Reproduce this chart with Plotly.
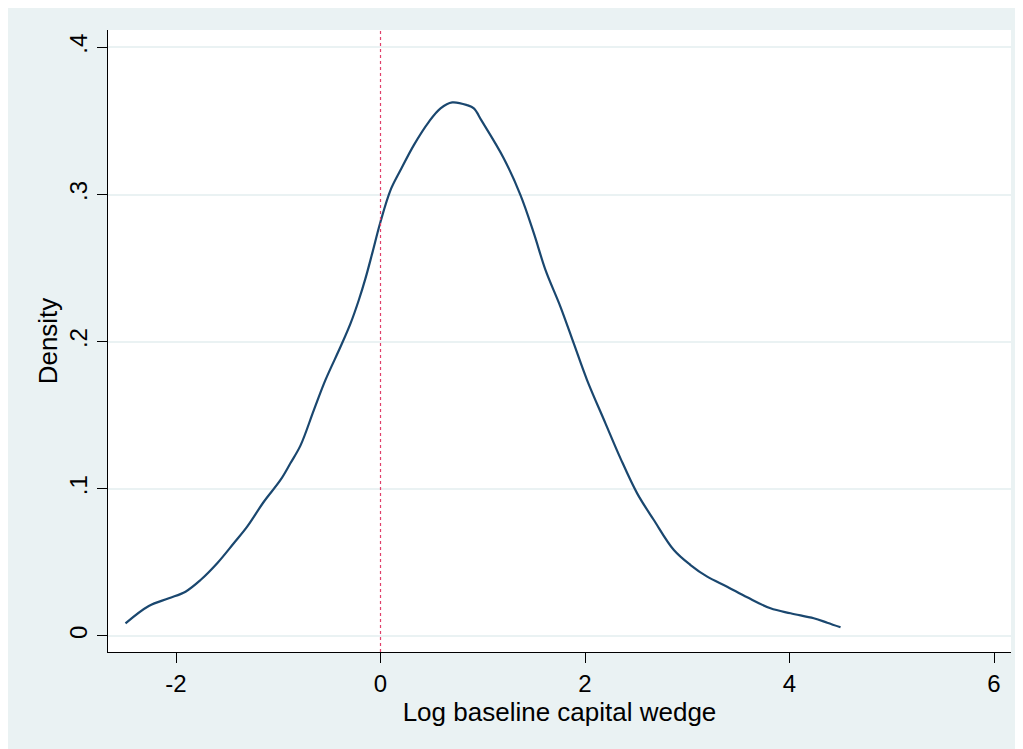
import plotly.graph_objects as go

x_vals = [-2.494, -2.266, -2.07, -1.907, -1.76, -1.597, -1.435, -1.304, -1.141, -0.978,
          -0.88, -0.782, -0.652, -0.538, -0.391, -0.293, -0.212, -0.147, -0.081, 0.0,
          0.098, 0.196, 0.326, 0.473, 0.587, 0.701, 0.848, 0.913, 0.99, 1.206,
          1.369, 1.5, 1.614, 1.76, 1.89, 2.02, 2.2, 2.347, 2.51, 2.673,
          2.869, 3.032, 3.195, 3.39, 3.586, 3.814, 4.01, 4.237, 4.369, 4.499]
density = [0.0086, 0.0204, 0.0256, 0.0301, 0.038, 0.0494, 0.063, 0.0743, 0.0912, 0.106,
           0.1175, 0.1295, 0.1535, 0.174, 0.1965, 0.2124, 0.2283, 0.243, 0.26, 0.2815,
           0.303, 0.3166, 0.3336, 0.3494, 0.3585, 0.3626, 0.3607, 0.3585, 0.35, 0.3245,
           0.2996, 0.2736, 0.2486, 0.2237, 0.1988, 0.1739, 0.1445, 0.1207, 0.0969, 0.0788,
           0.0584, 0.0482, 0.0403, 0.0335, 0.0263, 0.0188, 0.0154, 0.012, 0.009, 0.0059]

x_ticks = [-2, 0, 2, 4, 6]
x_ticklabels = ["-2", "0", "2", "4", "6"]
y_ticks = [0, 0.1, 0.2, 0.3, 0.4]
y_ticklabels = ["0", ".1", ".2", ".3", ".4"]
vline_x = 0

BG = "#EAF2F3"
FONT = "Liberation Sans, Arial, Helvetica, sans-serif"

fig = go.Figure()
fig.add_trace(go.Scatter(x=x_vals, y=density, mode="lines",
                         line=dict(color="#1A476F", width=2.2, shape="spline", smoothing=1.0),
                         showlegend=False, hoverinfo="skip"))

fig.update_layout(
    width=1015, height=741,
    margin=dict(l=100, r=12, t=22, b=97),
    paper_bgcolor=BG,
    plot_bgcolor="white",
    font=dict(family=FONT, size=25, color="black"),
    shapes=[
        dict(type="line", xref="x", yref="paper", x0=vline_x, x1=vline_x, y0=0, y1=1,
             line=dict(color="#E0406A", width=1.2, dash="dot"), layer="above"),
    ],
)

fig.update_xaxes(
    range=[-2.665, 6.166], tickvals=x_ticks, ticktext=x_ticklabels,
    showgrid=False, zeroline=False, showline=True, linecolor="black", linewidth=1.3,
    ticks="outside", ticklen=10, tickwidth=1.3, tickcolor="black",
    tickfont=dict(size=24),
    title=dict(text="Log baseline capital wedge", font=dict(size=26), standoff=4),
)
fig.update_yaxes(
    range=[-0.0109, 0.4118], tickvals=y_ticks, ticktext=y_ticklabels,
    showgrid=True, gridcolor=BG, gridwidth=2, zeroline=False,
    showline=True, linecolor="black", linewidth=1.3,
    ticks="outside", ticklen=10, tickwidth=1.3, tickcolor="black",
    tickangle=-90, tickfont=dict(size=24),
    title=dict(text="Density", font=dict(size=26), standoff=0),
)

fig.write_html("out.html")
